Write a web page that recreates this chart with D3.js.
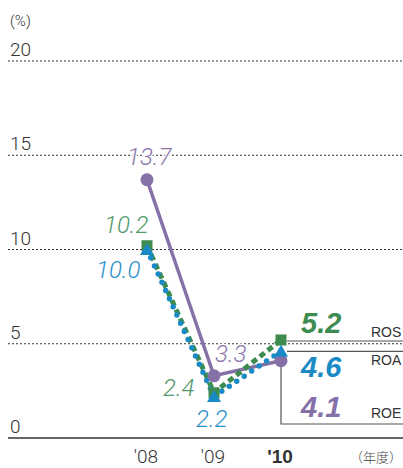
<!DOCTYPE html>
<html><head><meta charset="utf-8">
<script src="https://cdn.jsdelivr.net/npm/d3@7"></script>
<style>body{margin:0;background:#fff}svg{display:block}</style>
</head><body>
<svg id="c" width="403" height="468"></svg>
<script>
const years = ["'08", "'09", "'10"];
const ros = [10.2, 2.4, 5.2];
const roa = [10.0, 2.2, 4.6];
const roe = [13.7, 3.3, 4.1];
const yTicks = [0, 5, 10, 15, 20];
const seriesNames = ["ROS", "ROA", "ROE"];

const svg = d3.select("#c");
const font = "'Liberation Sans', Arial, sans-serif";
const light = "Roboto, 'Liberation Sans', sans-serif";
const purple = "#8670a8", green = "#3d8b4f", blue = "#1a8ac6";
const greenT = "#4f9868", blueT = "#2a90c8", purpleT = "#8a76ab";

const y = d3.scaleLinear().domain([0, 20]).range([438, 61]);
const x = d3.scalePoint().domain(years).range([147, 281]);

// grid
svg.append("g").selectAll("line").data(yTicks.filter(d => d > 0)).join("line")
  .attr("x1", 8).attr("x2", 403).attr("y1", d => y(d)).attr("y2", d => y(d))
  .attr("stroke", "#333").attr("stroke-width", 1).attr("stroke-dasharray", "2,2");
svg.append("line").attr("x1", 8).attr("x2", 403).attr("y1", y(0)).attr("y2", y(0))
  .attr("stroke", "#333").attr("stroke-width", 1.5);

svg.append("g").selectAll("text").data(yTicks).join("text")
  .attr("x", 10).attr("y", d => y(d) - 5).text(d => d)
  .attr("font-family", light).attr("font-weight", 300).attr("font-size", 19).attr("fill", "#333");
svg.append("text").attr("x", 10).attr("y", 26).text("(%)")
  .attr("font-family", light).attr("font-weight", 300).attr("font-size", 15).attr("fill", "#333");

svg.append("g").selectAll("text").data(years).join("text")
  .attr("x", d => x(d) - 1).attr("y", 463).attr("text-anchor", "middle").text(d => d)
  .attr("font-family", (d, i) => i === 2 ? font : light).attr("font-size", 19).attr("fill", "#333")
  .attr("font-weight", (d, i) => i === 2 ? "bold" : 300);
svg.append("text").attr("x", 402).attr("y", 462).attr("text-anchor", "end").text("（年度）")
  .attr("font-family", "'Noto Sans CJK JP', sans-serif").attr("font-weight", 300).attr("font-size", 13).attr("fill", "#444");

// leader lines
const lx = x(years[2]);
svg.append("line").attr("x1", lx + 6).attr("x2", 403).attr("y1", y(ros[2]) + 1).attr("y2", y(ros[2]) + 1)
  .attr("stroke", "#555").attr("stroke-width", 1.2);
svg.append("line").attr("x1", lx + 6).attr("x2", 403).attr("y1", y(roa[2])).attr("y2", y(roa[2]))
  .attr("stroke", "#555").attr("stroke-width", 1.2);
svg.append("path").attr("d", `M${lx},${y(roe[2])}V424H403`).attr("fill", "none")
  .attr("stroke", "#555").attr("stroke-width", 1.2);

const line = d3.line().x((d, i) => x(years[i])).y(d => y(d));
// lines
svg.append("path").attr("d", line(roe)).attr("fill", "none").attr("stroke", purple).attr("stroke-width", 3.5);
svg.append("path").attr("d", line(ros)).attr("fill", "none").attr("stroke", green).attr("stroke-width", 5)
  .attr("stroke-dasharray", "6,4");
svg.append("path").attr("d", line(roa)).attr("fill", "none").attr("stroke", blue).attr("stroke-width", 5.5)
  .attr("stroke-linecap", "round").attr("stroke-dasharray", "0,9");

// markers
svg.append("g").selectAll("rect").data(ros).join("rect")
  .attr("x", (d, i) => x(years[i]) - 5.5).attr("y", d => y(d) - 5.5).attr("width", 11).attr("height", 11)
  .attr("fill", green);
svg.append("g").selectAll("circle").data(roe).join("circle")
  .attr("cx", (d, i) => x(years[i])).attr("cy", d => y(d)).attr("r", 6.5).attr("fill", purple);
svg.append("g").selectAll("path").data(roa).join("path")
  .attr("transform", (d, i) => `translate(${x(years[i])},${y(d)})`)
  .attr("d", "M0,-6.5L7,5.5L-7,5.5Z").attr("fill", blue);

// value labels
function lab(t, xx, yy, col) {
  svg.append("text").attr("x", xx).attr("y", yy).text(t)
    .attr("font-family", light).attr("font-weight", 300).attr("font-size", 24).attr("font-style", "italic").attr("fill", col)
    .attr("stroke", "#fff").attr("stroke-width", 3).attr("paint-order", "stroke");
}
lab(roe[0].toFixed(1), 127, 165, purpleT);
lab(ros[0].toFixed(1), 104, 233, greenT);
lab(roa[0].toFixed(1), 96, 278, blueT);
lab(roe[1].toFixed(1), 215, 362, purpleT);
lab(ros[1].toFixed(1), 163, 396, greenT);
lab(roa[1].toFixed(1), 196, 427, blueT);

function big(t, yy, col) {
  svg.append("text").attr("x", 301).attr("y", yy).text(t)
    .attr("font-family", font).attr("font-size", 29).attr("font-weight", "bold").attr("font-style", "italic")
    .attr("fill", col);
}
big(ros[2].toFixed(1), 333, green);
big(roa[2].toFixed(1), 377, blue);
big(roe[2].toFixed(1), 417, purple);

const nameY = [337, 365, 418];
svg.append("g").selectAll("text").data(seriesNames).join("text")
  .attr("x", 371).attr("y", (d, i) => nameY[i]).text(d => d)
  .attr("font-family", font).attr("font-size", 14).attr("fill", "#333");
</script>
</body></html>
